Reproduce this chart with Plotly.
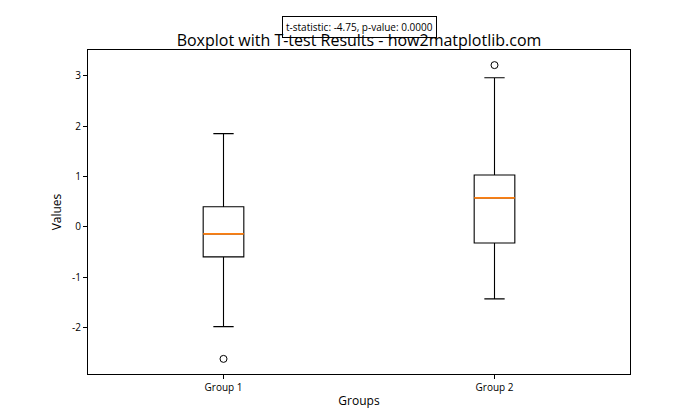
import plotly.graph_objects as go

groups = ["Group 1", "Group 2"]
positions = [1, 2]
lower_whisker = [-1.98, -1.43]
q1 = [-0.595, -0.32]
median = [-0.14, 0.575]
q3 = [0.40, 1.03]
upper_whisker = [1.85, 2.96]
outliers = [[-2.62], [3.21]]
y_ticks = [-2, -1, 0, 1, 2, 3]

FONT = "Open Sans, Noto Sans, sans-serif"

fig = go.Figure()
for i, g in enumerate(groups):
    fig.add_trace(go.Box(
        x=[positions[i]], q1=[q1[i]], median=[median[i]], q3=[q3[i]],
        lowerfence=[lower_whisker[i]], upperfence=[upper_whisker[i]],
        width=0.15, whiskerwidth=0.5, fillcolor="rgba(0,0,0,0)",
        line=dict(color="black", width=1.1), name=g, showlegend=False,
        hoverinfo="skip"))
    # orange median line drawn over the black one
    fig.add_trace(go.Box(
        x=[positions[i]], q1=[median[i]], median=[median[i]], q3=[median[i]],
        lowerfence=[median[i]], upperfence=[median[i]],
        width=0.15, whiskerwidth=0, fillcolor="rgba(0,0,0,0)",
        line=dict(color="#ff7f0e", width=1.7), showlegend=False,
        hoverinfo="skip"))
    fig.add_trace(go.Scatter(
        x=[positions[i]] * len(outliers[i]), y=outliers[i], mode="markers",
        marker=dict(symbol="circle-open", size=7, color="black",
                    line=dict(width=1, color="black")),
        showlegend=False, hoverinfo="skip"))

fig.update_layout(
    width=700, height=420,
    margin=dict(l=88, r=70, t=50, b=46),
    paper_bgcolor="white", plot_bgcolor="white",
    boxmode="overlay",
    font=dict(family=FONT, color="black", size=10),
    title=dict(text="Boxplot with T-test Results - how2matplotlib.com",
               x=0.5, xanchor="center", xref="paper",
               y=1, yref="paper", yanchor="bottom", pad=dict(b=4),
               font=dict(size=16, family=FONT, color="black")),
    xaxis=dict(range=[0.5, 2.5], tickvals=positions, ticktext=groups,
               showgrid=False, zeroline=False, showline=True, mirror=True,
               linecolor="black", linewidth=1, ticks="outside", ticklen=4,
               tickcolor="black",
               title=dict(text="Groups", font=dict(size=12), standoff=3)),
    yaxis=dict(range=[-2.92, 3.51], tickvals=y_ticks,
               ticktext=[str(v) for v in y_ticks],
               showgrid=False, zeroline=False, showline=True, mirror=True,
               linecolor="black", linewidth=1, ticks="outside", ticklen=4,
               tickcolor="black",
               title=dict(text="Values", font=dict(size=12), standoff=7)),
    annotations=[dict(text="t-statistic: -4.75, p-value: 0.0000",
                      xref="paper", yref="paper", x=0.5, y=1.0,
                      yshift=12, xanchor="center", yanchor="bottom",
                      showarrow=False, bordercolor="black", borderwidth=1,
                      borderpad=3, bgcolor="rgba(0,0,0,0)",
                      font=dict(size=10, family=FONT, color="black"))],
)

fig.write_html("out.html")
